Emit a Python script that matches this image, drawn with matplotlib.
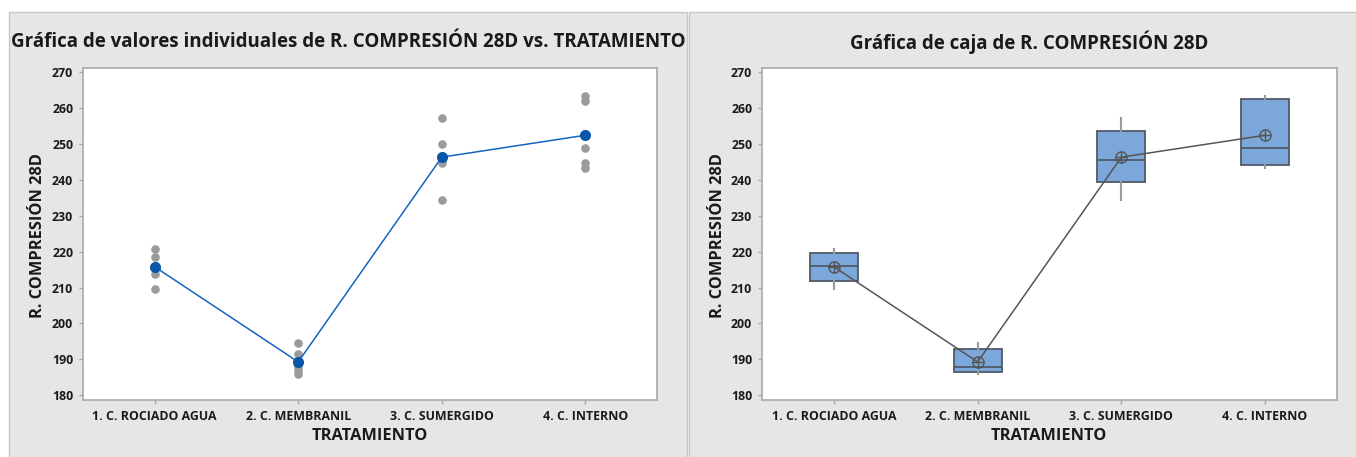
import numpy as np
import matplotlib
matplotlib.use("Agg")
import matplotlib.pyplot as plt
from matplotlib.patches import Rectangle

plt.rcParams["font.family"] = ["Open Sans", "DejaVu Sans"]

tratamientos = ["1. C. ROCIADO AGUA", "2. C. MEMBRANIL", "3. C. SUMERGIDO", "4. C. INTERNO"]
rociado_agua = [209.7, 213.9, 216.1, 218.5, 220.6]
membranil = [185.8, 187.0, 187.8, 191.4, 194.5]
sumergido = [234.4, 244.6, 245.4, 249.9, 257.1]
interno = [243.4, 244.6, 248.7, 261.9, 263.3]
grupos = [rociado_agua, membranil, sumergido, interno]
y_ticks = list(range(180, 271, 10))

W, H = 1356, 457
PANEL_BG = "#e6e6e6"
SPINE = "#a8a8a8"
TEXT = "#1a1a1a"

fig = plt.figure(figsize=(W / 100, H / 100), dpi=100)


def px_axes(x0, y0, x1, y1):
    # pixel box (top-left origin) -> figure axes
    return fig.add_axes([x0 / W, 1 - y1 / H, (x1 - x0) / W, (y1 - y0) / H])


# gray panels behind each graph
for x0, x1 in [(9, 687), (689, 1360)]:
    fig.patches.append(Rectangle((x0 / W, -0.01), (x1 - x0) / W, 1.01 - 12 / H,
                                 transform=fig.transFigure, facecolor=PANEL_BG,
                                 edgecolor="#c8c8c8", linewidth=1, zorder=-10))


def style_axes(ax, xlabel_x, ylabel_x):
    ax.set_xlim(0.5, 4.5)
    ax.set_ylim(178.7, 271.1)
    ax.set_yticks(y_ticks)
    ax.set_xticks(range(1, 5))
    ax.set_xticklabels(tratamientos)
    for s in ax.spines.values():
        s.set_color(SPINE)
        s.set_linewidth(1.2)
    ax.tick_params(axis="both", colors=SPINE, length=3, width=1, labelcolor=TEXT,
                   labelsize=8.9, pad=4)
    for lbl in ax.get_xticklabels() + ax.get_yticklabels():
        lbl.set_fontweight("bold")
    ax.set_facecolor("white")
    fig.text(xlabel_x / W, 1 - 436 / H, "TRATAMIENTO", ha="center", va="center",
             fontsize=11.8, fontweight="bold", color=TEXT)
    fig.text(ylabel_x / W, 1 - 236 / H, "R. COMPRESIÓN 28D", ha="center", va="center",
             rotation=90, fontsize=11.8, fontweight="bold", color=TEXT)


x = np.arange(1, 5)
medias = [np.mean(g) for g in grupos]

# individual values plot
ax1 = px_axes(83, 68, 657, 400)
style_axes(ax1, 370, 38)
for xi, g in zip(x, grupos):
    ax1.plot([xi] * len(g), g, "o", color="#9b9b9b", markersize=6.2,
             markeredgewidth=0, zorder=2)
ax1.plot(x, medias, "-", color="#1464c0", linewidth=1.1, zorder=3)
ax1.plot(x, medias, "o", color="#0a56a8", markersize=8, markeredgewidth=0, zorder=4)
fig.text(348 / W, 1 - 42 / H,
         "Gráfica de valores individuales de R. COMPRESIÓN 28D vs. TRATAMIENTO",
         ha="center", va="center", fontsize=13.5, fontweight="bold", color=TEXT)

# box plot (quartiles by (n+1)p rule)
ax2 = px_axes(762, 68, 1337, 400)
style_axes(ax2, 1049, 718)
stats = []
for g in grupos:
    arr = np.array(g)
    q1, med, q3 = np.percentile(arr, [25, 50, 75], method="weibull")
    iqr = q3 - q1
    lo = arr[arr >= q1 - 1.5 * iqr].min()
    hi = arr[arr <= q3 + 1.5 * iqr].max()
    stats.append(dict(q1=q1, med=med, q3=q3, whislo=lo, whishi=hi, fliers=[]))
ax2.bxp(stats, positions=x, widths=0.333, patch_artist=True, showcaps=False,
        boxprops=dict(facecolor="#7ba7da", edgecolor="#4f5a68", linewidth=1.3),
        medianprops=dict(color="#4f5a68", linewidth=1.3),
        whiskerprops=dict(color="#9a9a9a", linewidth=1.5), manage_ticks=False)
ax2.plot(x, medias, "-", color="#555555", linewidth=1.1, zorder=5)
ax2.plot(x, medias, marker="o", linestyle="none", markersize=8,
         markerfacecolor="none", markeredgecolor="#555555", markeredgewidth=1, zorder=6)
ax2.plot(x, medias, marker="+", linestyle="none", markersize=8,
         color="#555555", markeredgewidth=1, zorder=6)
fig.text(1029 / W, 1 - 42 / H, "Gráfica de caja de R. COMPRESIÓN 28D",
         ha="center", va="center", fontsize=13.5, fontweight="bold", color=TEXT)

fig.savefig("out.png", dpi=100, facecolor="white")
